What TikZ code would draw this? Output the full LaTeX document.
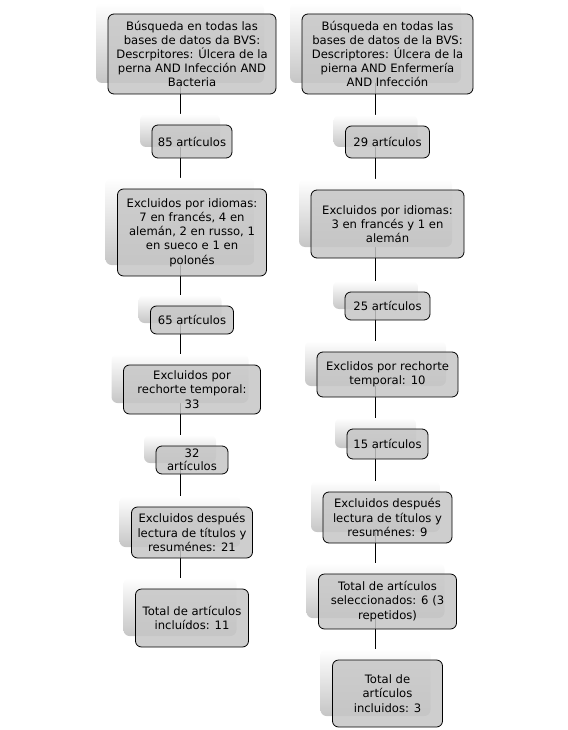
\documentclass[tikz,border=0pt]{standalone}
\usepackage{fontspec}
\setmainfont{DejaVu Sans}
\usetikzlibrary{shadows,backgrounds}

\begin{document}
\begin{tikzpicture}[x=1pt, y=-1pt,
  item/.style={draw=black, line width=0.8pt, rounded corners=6pt, fill=gray!45, fill opacity=0.85, text opacity=1,
    align=center, inner sep=0pt, font=\fontsize{11.6}{14.2}\selectfont,
    general shadow={draw=none, fill opacity=1, shadow xshift=-12pt, shadow yshift=11pt,
      top color=white, middle color=white, bottom color=gray!45}},
  link/.style={draw=black, line width=0.8pt}]
\useasboundingbox (0,0) rectangle (567,730);
% left column
\node [item, minimum width=168, minimum height=80] (L1) at (192,54) {B\'usqueda en todas las\\bases de datos da BVS:\\Descrpitores: \'Ulcera de la\\perna AND Infecci\'on AND\\Bacteria};
\node [item, minimum width=80, minimum height=33] (L2) at (192,141.5) {85 art\'iculos};
\node [item, minimum width=149, minimum height=87] (L3) at (192,232.5) {Excluidos por idiomas:\\7 en franc\'es, 4 en\\alem\'an, 2 en russo, 1\\en sueco e 1 en\\polon\'es};
\node [item, minimum width=83, minimum height=28] (L4) at (192,320) {65 art\'iculos};
\node [item, minimum width=137, minimum height=49] (L5) at (192,389.5) {Excluidos por\\rechorte temporal:\\33};
\node [item, minimum width=72, minimum height=28, font=\fontsize{11.6}{13.3}\selectfont] (L6) at (192,460) {32\\art\'iculos};
\node [item, minimum width=121, minimum height=51] (L7) at (192,532.5) {Excluidos despu\'es\\lectura de t\'itulos y\\resum\'enes: 21};
\node [item, minimum width=113, minimum height=58] (L8) at (192,618) {Total de art\'iculos\\inclu\'idos: 11};
% right column
\node [item, minimum width=171, minimum height=80] (R1) at (387.5,54) {B\'usqueda en todas las\\bases de datos de la BVS:\\Descriptores: \'Ulcera de la\\pierna AND Enfermer\'ia\\AND Infecci\'on};
\node [item, minimum width=84, minimum height=32] (R2) at (387.5,142) {29 art\'iculos};
\node [item, minimum width=153, minimum height=68] (R3) at (387.5,224) {Excluidos por idiomas:\\3 en franc\'es y 1 en\\alem\'an};
\node [item, minimum width=85, minimum height=28] (R4) at (387.5,306) {25 art\'iculos};
\node [item, minimum width=141, minimum height=45] (R5) at (387.5,374.5) {Exclidos por rechorte\\temporal: 10};
\node [item, minimum width=81, minimum height=30] (R6) at (387.5,444) {15 art\'iculos};
\node [item, minimum width=129, minimum height=51] (R7) at (387.5,517.5) {Excluidos despu\'es\\lectura de t\'itulos y\\resum\'enes: 9};
\node [item, minimum width=138, minimum height=55] (R8) at (387.5,601.5) {Total de art\'iculos\\seleccionados: 6 (3\\repetidos)};
\node [item, minimum width=110, minimum height=67] (R9) at (387.5,693.5) {Total de\\art\'iculos\\incluidos: 3};
% connectors, behind the boxes
\begin{scope}[on background layer]
\draw [link] ([xshift=-12pt]L1.center) -- ([xshift=-12pt]L8.center);
\draw [link] ([xshift=-12pt]R1.center) -- ([xshift=-12pt]R9.center);
\end{scope}
\end{tikzpicture}
\end{document}
